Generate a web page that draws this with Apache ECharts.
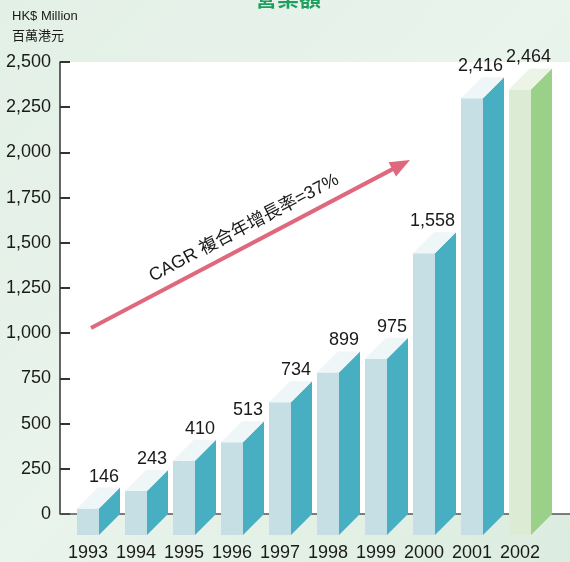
<!DOCTYPE html>
<html>
<head>
<meta charset="utf-8">
<style>
  html, body { margin: 0; padding: 0; }
  #chart { width: 570px; height: 562px; }
</style>
<script src="https://cdn.jsdelivr.net/npm/echarts@6/dist/echarts.min.js"></script>
</head>
<body>
<div id="chart"></div>
<script>
// turnover, HK$ million
const years = ['1993', '1994', '1995', '1996', '1997', '1998', '1999', '2000', '2001', '2002']
const turnover = [146, 243, 410, 513, 734, 899, 975, 1558, 2416, 2464]
const yTicks = [0, 250, 500, 750, 1000, 1250, 1500, 1750, 2000, 2250, 2500]
const highlightYear = '2002'

const FONT = '"Liberation Sans", Arial, sans-serif'
const CJK = '"Noto Sans CJK TC", "Noto Sans CJK SC", sans-serif'

const blue = { front: '#c5dfe5', side: '#48aec1', top: '#eef6f7' }
const green = { front: '#dcebd4', side: '#9bd088', top: '#ebf4e6' }

const chart = echarts.init(document.getElementById('chart'))

function renderBar(params, api) {
  const idx = api.value(0)
  const top = api.coord([idx, api.value(1)])
  const base = api.coord([idx, 0])
  const w = 22, d = 21
  const x0 = top[0] - w / 2, x1 = top[0] + w / 2
  const c = years[idx] === highlightYear ? green : blue
  return {
    type: 'group',
    children: [
      { type: 'rect', shape: { x: x0, y: top[1] + d, width: w, height: base[1] - top[1] }, style: { fill: c.front } },
      { type: 'polygon', shape: { points: [[x1, top[1] + d], [x1 + d, top[1]], [x1 + d, base[1]], [x1, base[1] + d]] }, style: { fill: c.side } },
      { type: 'polygon', shape: { points: [[x0, top[1] + d], [x0 + d, top[1]], [x1 + d, top[1]], [x1, top[1] + d]] }, style: { fill: c.top } },
      {
        type: 'text',
        style: {
          x: x1 + d - 1, y: top[1] - 2,
          text: api.value(1).toLocaleString('en-US'),
          align: 'right', verticalAlign: 'bottom',
          font: '18px ' + FONT, fill: '#1a1a1a'
        }
      }
    ]
  }
}

// arrow for the growth annotation
const a0 = [91, 328], a1 = [410, 160]
const ang = Math.atan2(a1[1] - a0[1], a1[0] - a0[0])
const headLen = 20, headW = 8
const ux = Math.cos(ang), uy = Math.sin(ang)
const hb = [a1[0] - ux * headLen, a1[1] - uy * headLen]

chart.setOption({
  backgroundColor: new echarts.graphic.LinearGradient(0, 0, 1, 1, [
    { offset: 0, color: '#e3f0e6' }, { offset: 0.5, color: '#e9f4ec' }, { offset: 1, color: '#dcece0' }
  ]),
  animation: false,
  grid: { left: 64, right: 26, top: 62, bottom: 48 },
  xAxis: {
    type: 'category',
    data: years,
    axisLine: { show: false },
    axisTick: { show: false },
    axisLabel: { interval: 0, margin: 30, fontFamily: FONT, fontSize: 18, color: '#1a1a1a' }
  },
  yAxis: {
    type: 'value',
    min: 0, max: 2500, interval: 250,
    offset: 4,
    splitLine: { show: false },
    axisLine: { show: true, lineStyle: { color: '#333', width: 1.5 } },
    axisTick: { show: true, inside: true, length: 10, lineStyle: { color: '#333', width: 2 } },
    axisLabel: {
      margin: 9, fontFamily: FONT, fontSize: 18, color: '#1a1a1a',
      formatter: v => yTicks.includes(v) ? v.toLocaleString('en-US') : ''
    }
  },
  graphic: [
    { type: 'rect', z: -10, shape: { x: 60, y: 62, width: 510, height: 452 }, style: { fill: '#ffffff' } },
    { type: 'line', z: 1, shape: { x1: 60, y1: 514, x2: 570, y2: 514 }, style: { stroke: '#555', lineWidth: 1.5 } },
    { type: 'text', z: 5, style: { x: 288, y: -13, text: '營業額', align: 'center', font: 'bold 22px ' + CJK, fill: '#1f9f5f' } },
    { type: 'text', z: 5, style: { x: 12, y: 10, text: 'HK$ Million', font: '13px ' + FONT, fill: '#1a1a1a' } },
    { type: 'text', z: 5, style: { x: 12, y: 29, text: '百萬港元', font: '13px ' + CJK, fill: '#1a1a1a' } },
    { type: 'line', z: 10, shape: { x1: a0[0], y1: a0[1], x2: hb[0] + ux * 2, y2: hb[1] + uy * 2 }, style: { stroke: '#e0687c', lineWidth: 4 } },
    {
      type: 'polygon', z: 10,
      shape: { points: [a1, [hb[0] - uy * headW, hb[1] + ux * headW], [hb[0] + uy * headW, hb[1] - ux * headW]] },
      style: { fill: '#e0687c' }
    },
    {
      type: 'text', z: 10,
      x: 244, y: 228, rotation: -ang,
      style: { x: 0, y: 0, text: 'CAGR 複合年增長率=37%', align: 'center', verticalAlign: 'middle', font: '18px ' + FONT + ', ' + CJK, fill: '#1a1a1a' }
    }
  ],
  series: [{
    type: 'custom',
    renderItem: renderBar,
    data: turnover.map((v, i) => [i, v]),
    encode: { x: 0, y: 1 },
    z: 5
  }]
})
window.addEventListener('resize', () => chart.resize())
</script>
</body>
</html>
